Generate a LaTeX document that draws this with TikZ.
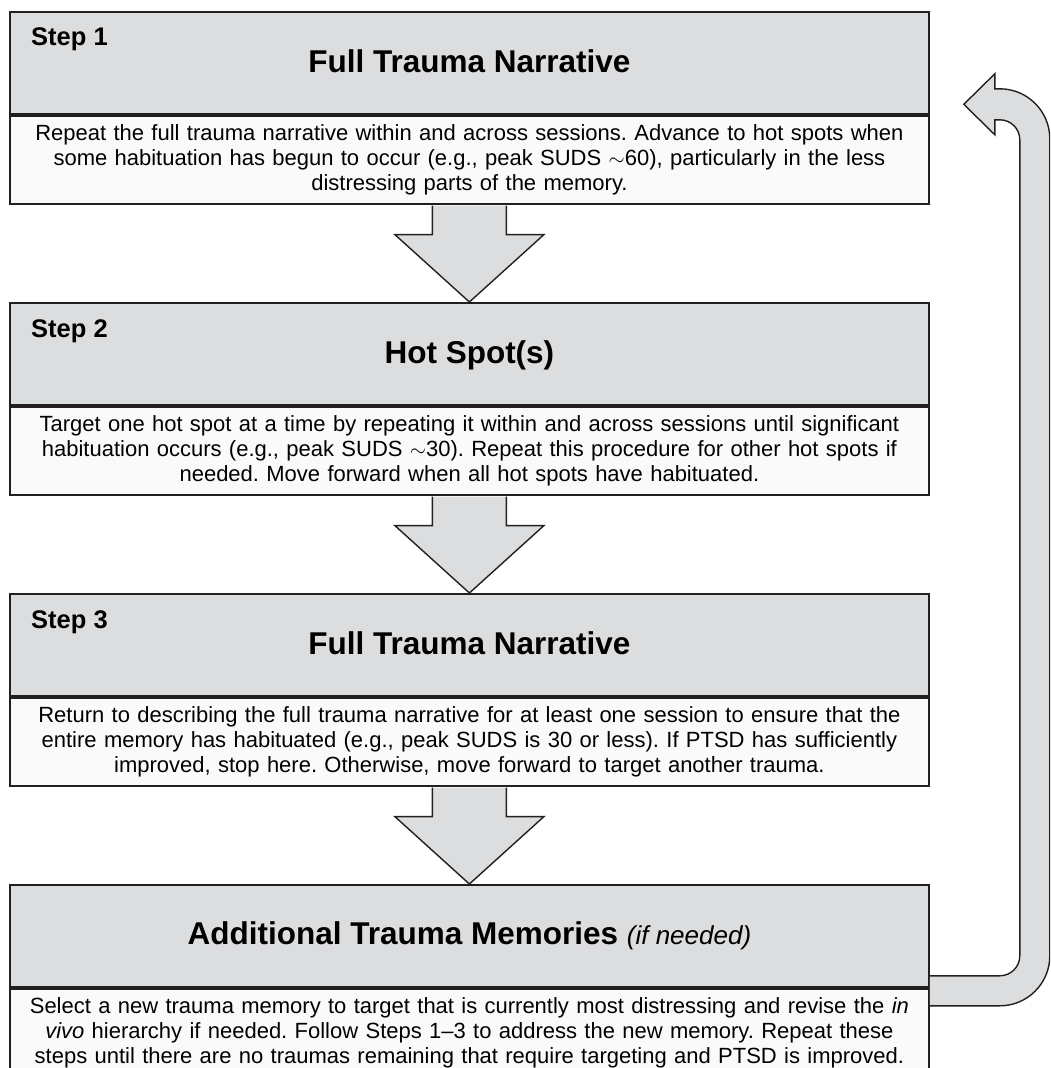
\documentclass[tikz,border=0pt]{standalone}
\usepackage{fontspec}
\setmainfont{Liberation Sans}
\usetikzlibrary{calc}
\frenchspacing
\definecolor{boxgray}{HTML}{DCDDDF}
\definecolor{bodywhite}{HTML}{FAFAFA}
\definecolor{ink}{HTML}{231F20}
\tikzset{
  hdr/.style={draw=ink, line width=1.8pt, fill=boxgray, minimum width=919pt,
    minimum height=102pt, inner sep=0pt, anchor=north west},
  bdy/.style={draw=ink, line width=1.8pt, fill=bodywhite, minimum width=919pt,
    minimum height=88pt, inner sep=0pt, anchor=north west, text width=915pt,
    align=center, font=\fontsize{22}{25}\selectfont},
  steplbl/.style={anchor=base west, inner sep=0pt, font=\fontsize{25.5}{30}\selectfont\bfseries},
  ttl/.style={anchor=base, inner sep=0pt, font=\fontsize{31.5}{36}\selectfont\bfseries},
  flowarrow/.style={fill=boxgray, draw=ink, line width=1.4pt, line join=miter},
}
\newcommand\flowdownarrow[2]{%
  \filldraw[flowarrow] ($(#1.south)+(-37,0.9)$) -- ($(#1.south)+(-37,30)$)
    -- ($(#1.south)+(-74.5,30)$) -- (#2.north) -- ($(#1.south)+(74.5,30)$)
    -- ($(#1.south)+(37,30)$) -- ($(#1.south)+(37,0.9)$);
}
\begin{document}
\begin{tikzpicture}[x=1pt,y=-1pt]
\useasboundingbox (0,0) rectangle (1050,1068);
\clip (0,0) rectangle (1050,1068);

% Box 1
\node[hdr] (h1) at (9,11) {};
\node[bdy] (b1) at (h1.south west) {Repeat the full trauma narrative within and across sessions. Advance to hot spots when\\
some habituation has begun to occur (e.g., peak SUDS $\sim$60), particularly in the less\\
distressing parts of the memory.};
\node[steplbl] (s1) at ($(h1.north west)+(22,34)$) {Step 1};
\node[ttl] (t1) at ($(h1.north)+(0,61)$) {Full Trauma Narrative};

% Box 2
\node[hdr] (h2) at (9,302) {};
\node[bdy] (b2) at (h2.south west) {Target one hot spot at a time by repeating it within and across sessions until significant\\
habituation occurs (e.g., peak SUDS $\sim$30). Repeat this procedure for other hot spots if\\
needed. Move forward when all hot spots have habituated.};
\node[steplbl] (s2) at ($(h2.north west)+(22,35)$) {Step 2};
\node[ttl] (t2) at ($(h2.north)+(0,61)$) {Hot Spot(s)};

% Box 3
\node[hdr] (h3) at (9,593) {};
\node[bdy] (b3) at (h3.south west) {Return to describing the full trauma narrative for at least one session to ensure that the\\
entire memory has habituated (e.g., peak SUDS is 30 or less). If PTSD has sufficiently\\
improved, stop here. Otherwise, move forward to target another trauma.};
\node[steplbl] (s3) at ($(h3.north west)+(22,35)$) {Step 3};
\node[ttl] (t3) at ($(h3.north)+(0,61)$) {Full Trauma Narrative};

% Box 4
\node[hdr] (h4) at (9,884) {};
\node[bdy] (b4) at (h4.south west) {Select a new trauma memory to target that is currently most distressing and revise the \textit{in}\\
\textit{vivo} hierarchy if needed. Follow Steps 1--3 to address the new memory. Repeat these\\
steps until there are no traumas remaining that require targeting and PTSD is improved.};
\node[ttl] (t4) at ($(h4.north)+(0,60)$) {Additional Trauma Memories {\fontsize{26}{30}\selectfont\mdseries\itshape (if needed)}};

% Down arrows
\flowdownarrow{b1}{h2}
\flowdownarrow{b2}{h3}
\flowdownarrow{b3}{h4}

% Return arrow
\coordinate (rb) at ($(h4.south east)+(0,-12)$);
\coordinate (rt) at ($(h1.south east)+(34,-10.5)$);
\filldraw[flowarrow] (rb) -- ($(rb)+(70,0)$)
  .. controls ($(rb)+(81.05,0)$) and ($(rb)+(90,-8.95)$) .. ($(rb)+(90,-20)$)
  -- ($(rt)+(56,35.5)$)
  .. controls ($(rt)+(56,24.45)$) and ($(rt)+(47.05,15.5)$) .. ($(rt)+(36,15.5)$)
  -- ($(rt)+(31,15.5)$) -- ($(rt)+(31,30.5)$) -- (rt) -- ($(rt)+(31,-30.5)$)
  -- ($(rt)+(31,-15.5)$) -- ($(rt)+(36,-15.5)$)
  .. controls ($(rt)+(63.6,-15.5)$) and ($(rt)+(86,6.9)$) .. ($(rt)+(86,34.5)$)
  -- ($(rb)+(120,-20)$)
  .. controls ($(rb)+(120,7.6)$) and ($(rb)+(97.6,30)$) .. ($(rb)+(70,30)$)
  -- ($(rb)+(0,30)$);
\end{tikzpicture}
\end{document}
